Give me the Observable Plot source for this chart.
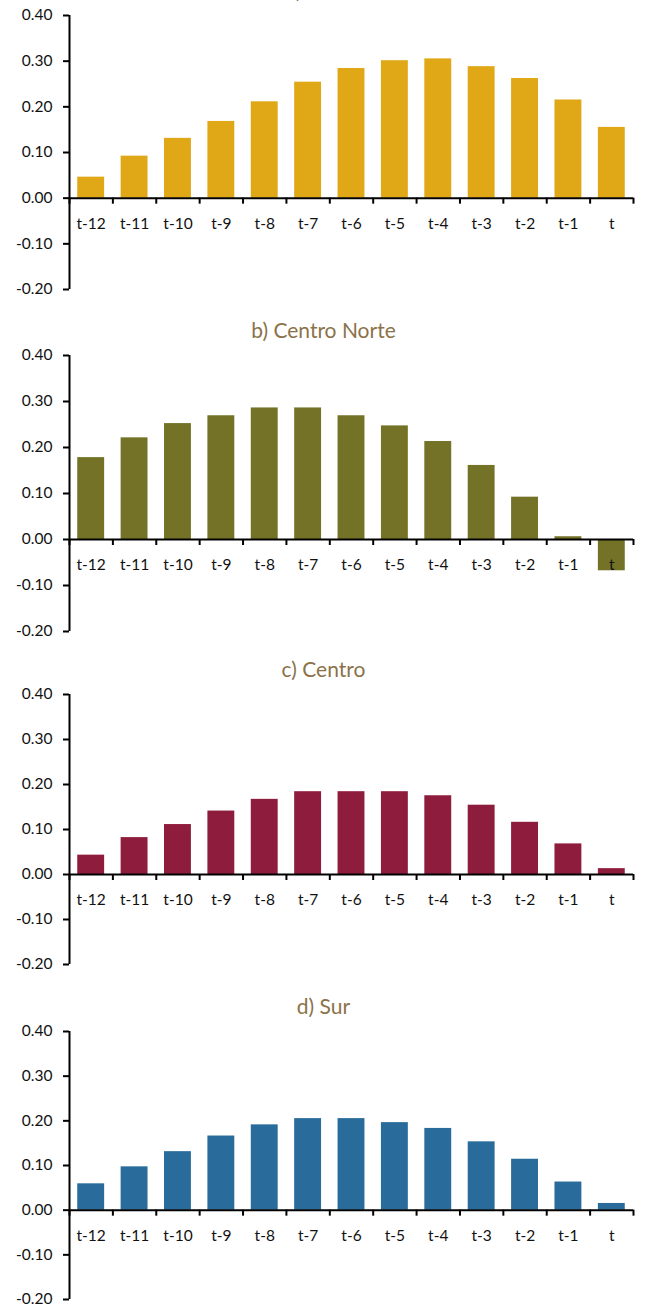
<!DOCTYPE html>
<html>
<head>
<meta charset="utf-8">
<script src="https://cdn.jsdelivr.net/npm/d3@7"></script>
<script src="https://cdn.jsdelivr.net/npm/@observablehq/plot@0.6"></script>
<style>
  html, body { margin: 0; padding: 0; background: #fff; overflow: hidden; }
  body { width: 647px; height: 1316px; position: relative; font-family: Lato, "Open Sans", sans-serif; }
  .block { position: absolute; left: 0; width: 647px; }
  .title { height: 35px; box-sizing: border-box; padding-top: 4px; line-height: 35px;
           font-size: 21px; color: #8B7249; text-align: center; white-space: nowrap; overflow: visible; }
  svg { display: block; }
</style>
</head>
<body>
<script>
const categories = ["t-12","t-11","t-10","t-9","t-8","t-7","t-6","t-5","t-4","t-3","t-2","t-1","t"];
const titles = ["a) Norte", "b) Centro Norte", "c) Centro", "d) Sur"];
const colors = ["#E0A717", "#737227", "#8E1C3C", "#296C9B"];
const norte       = [0.046, 0.092, 0.131, 0.168, 0.211, 0.254, 0.284, 0.301, 0.305, 0.288, 0.262, 0.215, 0.155];
const centroNorte = [0.178, 0.221, 0.252, 0.269, 0.286, 0.286, 0.269, 0.247, 0.213, 0.161, 0.092, 0.006, -0.068];
const centro      = [0.043, 0.082, 0.111, 0.141, 0.167, 0.184, 0.184, 0.184, 0.175, 0.154, 0.116, 0.068, 0.013];
const sur         = [0.059, 0.097, 0.131, 0.166, 0.191, 0.205, 0.205, 0.196, 0.183, 0.153, 0.114, 0.063, 0.015];
const yTicks = [-0.2, -0.1, 0, 0.1, 0.2, 0.3, 0.4];

const series = [norte, centroNorte, centro, sur];
// layout: top of each plot frame and its height in pixels
const plotTops = [15, 355, 694, 1031];
const plotHeights = [274, 276, 270, 268];
const pad = 0.19;
const boundaries = d3.range(categories.length + 1);

series.forEach((values, k) => {
  const data = categories.map((c, i) => ({cat: c, i, value: values[i]}));
  const block = document.createElement("div");
  block.className = "block";
  block.style.top = (plotTops[k] - 47) + "px";
  const t = document.createElement("div");
  t.className = "title";
  t.textContent = titles[k];
  block.appendChild(t);

  const chart = Plot.plot({
    width: 647,
    height: plotHeights[k] + 12 + 18,
    marginLeft: 69,
    marginRight: 14,
    marginTop: 12,
    marginBottom: 18,
    style: {fontFamily: "Lato, 'Open Sans', sans-serif", color: "#111", background: "transparent", overflow: "visible"},
    x: {domain: [0, categories.length], axis: null},
    y: {domain: [-0.2, 0.4], axis: null},
    marks: [
      Plot.rectY(data, {x1: d => d.i + pad, x2: d => d.i + 1 - pad, y1: 0, y2: "value", fill: colors[k]}),
      Plot.ruleY([0], {stroke: "#000", strokeWidth: 2}),
      Plot.ruleX(boundaries, {x: d => d, y1: 0, y2: 0, insetTop: 6, stroke: "#000", strokeWidth: 2}),
      Plot.ruleX([0], {y1: -0.2, y2: 0.4, stroke: "#000", strokeWidth: 2}),
      Plot.axisY({ticks: yTicks, tickFormat: d => d.toFixed(2), tickSize: 6, tickPadding: 11, label: null,
                  strokeWidth: 2, fontSize: 15.5, stroke: "#000", fill: "#111"}),
      Plot.text(data, {x: d => d.i + 0.5, y: 0, dy: 26, text: "cat", fontSize: 15.5, fill: "#111"})
    ]
  });
  block.appendChild(chart);
  document.body.appendChild(block);
});
</script>
</body>
</html>
